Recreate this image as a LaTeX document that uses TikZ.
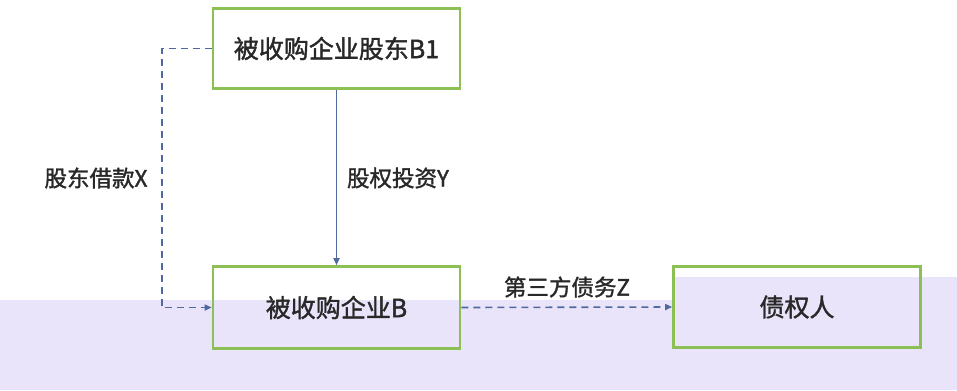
\documentclass[tikz,border=0pt]{standalone}
\usepackage{fontspec}
\setmainfont{Noto Sans CJK SC}
\newfontfamily\medfont[FakeBold=1.5]{Noto Sans CJK SC}
\usetikzlibrary{arrows.meta}
\definecolor{boxgreen}{RGB}{141,192,84}
\definecolor{lineblue}{RGB}{80,106,160}
\definecolor{band}{RGB}{234,228,250}
\definecolor{txt}{RGB}{40,40,40}
\tikzset{
  boxnode/.style={draw=boxgreen, line width=2.6bp, fill=none, minimum width=247bp, minimum height=80bp, inner sep=0pt, text=txt, font=\medfont\fontsize{25bp}{28bp}\selectfont},
  lbl/.style={text=txt, inner sep=0pt, font=\medfont\fontsize{22.5bp}{26bp}\selectfont},
  conn/.style={draw=lineblue, line width=1.6bp, -{Triangle[length=7bp,width=6bp]}},
  dconn/.style={conn, dash pattern=on 7bp off 5bp}
}
\begin{document}
\begin{tikzpicture}[x=1bp,y=-1bp]
\useasboundingbox (0,0) rectangle (957,390);
\fill[white] (0,0) rectangle (957,390);
\fill[band] (0,300) -- (673,300) -- (673,277) -- (957,277) -- (957,390) -- (0,390) -- cycle;
\node[boxnode] (b1) at (336.5,48.5) {被收购企业股东B1};
\node[boxnode, minimum height=82bp] (b) at (336.5,307.5) {被收购企业B};
\node[boxnode, minimum height=81bp] (z) at (797,307) {债权人};
\coordinate (xl) at (162,0);
\draw[conn] (b1.south) -- (b.north);
\draw[dconn] (b1.west) -| (xl |- b.west) -- (b.west);
\draw[dconn] (b.east) -- (z.west);
\node[lbl] (lx) at (96,178) {股东借款X};
\node[lbl] (ly) at (398,178) {股权投资Y};
\node[lbl] (lz) at (567,287) {第三方债务Z};
\end{tikzpicture}
\end{document}
